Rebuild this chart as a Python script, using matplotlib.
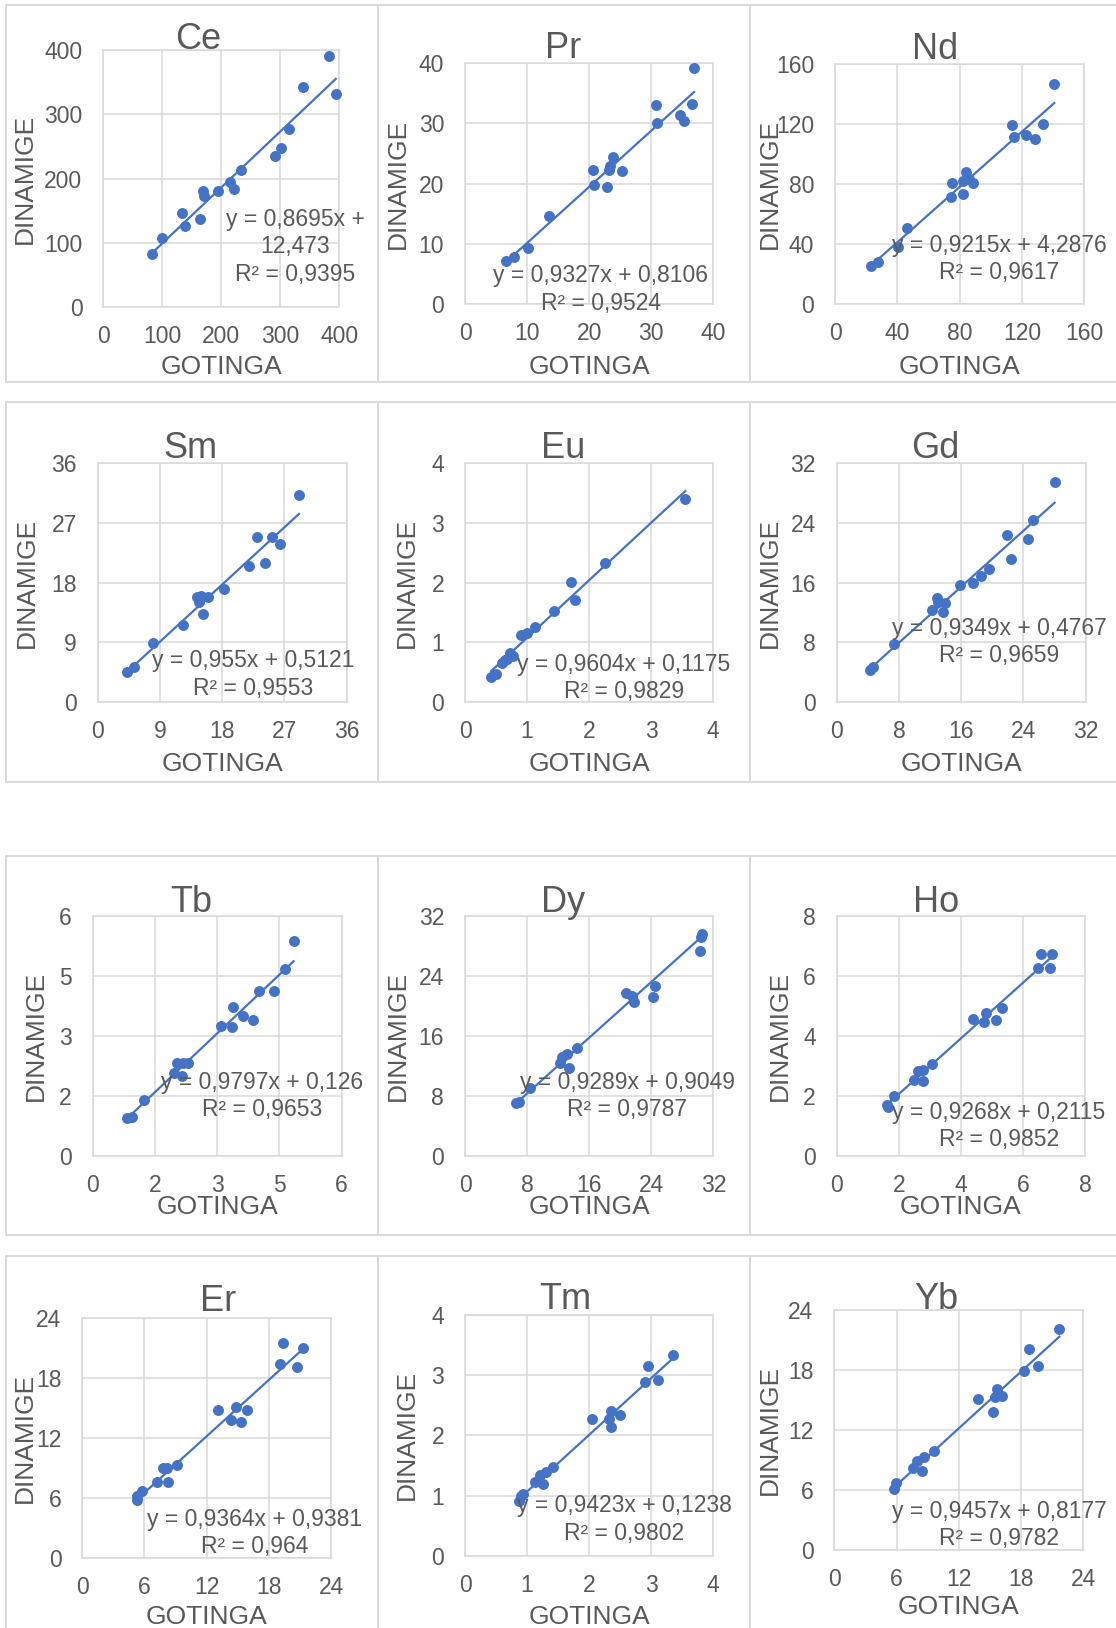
import numpy as np
import matplotlib
matplotlib.use("Agg")
import matplotlib.pyplot as plt
from matplotlib.patches import Rectangle

plt.rcParams['font.family'] = ['Liberation Sans', 'DejaVu Sans']

W, H = 1116, 1628
BLUE = '#4472C4'
TXT = '#595959'
GRID = '#D9D9D9'

ELEMENTS = ['Ce', 'Pr', 'Nd', 'Sm', 'Eu', 'Gd', 'Tb', 'Dy', 'Ho', 'Er', 'Tm', 'Yb']

# GOTINGA (x) vs DINAMIGE (y) per element
CE_GOT = [82.5, 100, 134, 138, 164, 169, 171, 195, 214, 221, 234, 291.5, 300.6, 314, 338, 382.5, 394]
CE_DIN = [82.4, 107, 146, 127, 138, 181, 173, 181, 195, 184, 214, 235, 248, 277, 343, 390, 332]

PR_GOT = [6.6, 7.9, 10.1, 13.5, 20.6, 20.8, 22.8, 23.2, 23.4, 23.9, 25.3, 30.7, 31.0, 34.6, 35.3, 36.5, 36.9]
PR_DIN = [7.15, 7.87, 9.25, 14.7, 22.2, 19.7, 19.4, 22.3, 23.0, 24.5, 22.05, 33.0, 30.0, 31.4, 30.4, 33.3, 39.2]

ND_GOT = [23.1, 27.8, 40.2, 46.4, 74.2, 75.3, 81.9, 82.4, 83.9, 86.0, 88.3, 113.8, 115.1, 122.4, 128.3, 133.3, 140.7]
ND_DIN = [25.5, 28.1, 38.1, 50.7, 71.4, 80.9, 73.1, 82.0, 88.2, 83.5, 80.7, 119.4, 111.3, 112.8, 109.7, 119.7, 146.7]

SM_GOT = [4.2, 5.2, 8.05, 12.3, 14.3, 14.7, 15.0, 15.2, 16.0, 18.3, 21.9, 23.0, 24.2, 25.2, 26.4, 29.1]
SM_DIN = [4.5, 5.25, 8.86, 11.6, 15.8, 15.0, 16.0, 13.3, 15.8, 17.0, 20.5, 24.9, 20.9, 24.9, 23.8, 31.2]

EU_GOT = [0.42, 0.50, 0.59, 0.64, 0.68, 0.72, 0.77, 0.91, 1.0, 1.13, 1.44, 1.71, 1.77, 2.25, 3.55]
EU_DIN = [0.43, 0.47, 0.65, 0.70, 0.73, 0.82, 0.78, 1.12, 1.15, 1.26, 1.52, 2.01, 1.70, 2.33, 3.39]

GD_GOT = [4.24, 4.71, 7.37, 12.3, 12.85, 13.0, 13.6, 13.97, 15.8, 17.5, 18.6, 19.6, 21.9, 22.4, 24.6, 25.2, 28.0]
GD_DIN = [4.27, 4.67, 7.74, 12.3, 13.9, 13.4, 12.1, 13.3, 15.7, 16.0, 16.9, 17.8, 22.3, 19.2, 21.8, 24.3, 29.4]

TB_GOT = [0.82, 0.94, 1.24, 1.96, 2.02, 2.14, 2.17, 2.29, 3.08, 3.35, 3.39, 3.61, 3.86, 4.0, 4.38, 4.63, 4.84]
TB_DIN = [0.96, 0.98, 1.40, 2.07, 2.32, 2.0, 2.32, 2.32, 3.25, 3.23, 3.73, 3.51, 3.40, 4.12, 4.12, 4.68, 5.38]

DY_GOT = [6.53, 6.96, 8.38, 12.2, 12.5, 13.2, 13.4, 14.4, 20.7, 21.5, 21.8, 24.2, 24.5, 30.3, 30.4, 30.6]
DY_DIN = [7.02, 7.16, 9.02, 12.36, 13.16, 13.6, 11.8, 14.36, 21.8, 21.4, 20.5, 21.2, 22.7, 27.3, 29.2, 29.6]

HO_GOT = [1.61, 1.64, 1.86, 2.50, 2.63, 2.79, 2.79, 3.06, 4.40, 4.73, 4.80, 5.13, 5.32, 6.48, 6.58, 6.87, 6.93]
HO_DIN = [1.70, 1.62, 2.0, 2.53, 2.84, 2.87, 2.51, 3.06, 4.57, 4.48, 4.76, 4.53, 4.92, 6.26, 6.73, 6.26, 6.73]

ER_GOT = [5.24, 5.24, 5.73, 7.24, 7.75, 8.2, 8.24, 9.1, 13.06, 14.35, 14.83, 15.28, 15.86, 19.08, 19.34, 20.69, 21.33]
ER_DIN = [6.25, 5.82, 6.75, 7.58, 9.04, 9.04, 7.58, 9.31, 14.8, 13.8, 15.06, 13.56, 14.8, 19.35, 21.5, 19.05, 21.0]

TM_GOT = [0.87, 0.91, 0.94, 1.13, 1.21, 1.26, 1.30, 1.42, 2.04, 2.32, 2.35, 2.36, 2.50, 2.90, 2.95, 3.11, 3.35]
TM_DIN = [0.91, 1.0, 1.02, 1.23, 1.34, 1.19, 1.39, 1.48, 2.27, 2.27, 2.14, 2.41, 2.34, 2.88, 3.16, 2.92, 3.34]

YB_GOT = [5.78, 5.91, 7.61, 7.93, 8.48, 8.67, 9.6, 13.85, 15.3, 15.5, 15.65, 16.2, 18.3, 18.76, 19.6, 21.69]
YB_DIN = [6.1, 6.67, 8.23, 8.9, 7.9, 9.33, 9.93, 15.07, 13.8, 15.27, 16.07, 15.4, 17.9, 20.07, 18.43, 22.07]

GOT = [CE_GOT, PR_GOT, ND_GOT, SM_GOT, EU_GOT, GD_GOT, TB_GOT, DY_GOT, HO_GOT, ER_GOT, TM_GOT, YB_GOT]
DIN = [CE_DIN, PR_DIN, ND_DIN, SM_DIN, EU_DIN, GD_DIN, TB_DIN, DY_DIN, HO_DIN, ER_DIN, TM_DIN, YB_DIN]

# linear trend lines
SLOPES = [0.8695, 0.9327, 0.9215, 0.955, 0.9604, 0.9349, 0.9797, 0.9289, 0.9268, 0.9364, 0.9423, 0.9457]
INTERCEPTS = [12.473, 0.8106, 4.2876, 0.5121, 0.1175, 0.4767, 0.126, 0.9049, 0.2115, 0.9381, 0.1238, 0.8177]
R2 = [0.9395, 0.9524, 0.9617, 0.9553, 0.9829, 0.9659, 0.9653, 0.9787, 0.9852, 0.964, 0.9802, 0.9782]

AX_MAX = [400, 40, 160, 36, 4, 32, 6, 32, 8, 24, 4, 24]
AX_STEP = [100, 10, 40, 9, 1, 8, 1.5, 8, 2, 6, 1, 6]

# layout in pixels: plot box (left, top, right, bottom), title (x, baseline),
# ylabel x, xlabel y, equation (x, first line y)
PLOT_BOX = [(103.3, 50, 339.3, 307.3), (465, 63.3, 713.3, 304), (835, 64, 1084.3, 304),
            (97.7, 462.7, 346.7, 702.3), (465, 462.7, 713.3, 702.3), (836.7, 462.7, 1085.7, 702.3),
            (92.7, 916, 341.7, 1156), (465, 916, 713.3, 1156), (836.7, 916, 1085, 1156),
            (82.3, 1317.7, 331, 1558.3), (465, 1315, 713.3, 1555.7), (834.3, 1310, 1083.3, 1550)]
TITLE_POS = [(198, 49.3), (563, 58.3), (935, 58.7),
             (190.7, 457.7), (563.3, 457.7), (935.7, 457.7),
             (191, 911.7), (563.3, 911.7), (935.7, 911.7),
             (218.3, 1311), (565, 1309.3), (936.7, 1309.3)]
YLAB_X = [25, 398.3, 770, 26.7, 407.3, 770, 36, 398.3, 780, 25, 407.3, 770]
XLAB_Y = [364, 365, 364, 761.7, 761.7, 761.7, 1205, 1205, 1205, 1614.3, 1614.3, 1604.3]
EQ_POS = [(295, 217), (600.8, 273.3), (999, 242.7),
          (253.5, 658.3), (624, 661.7), (999, 625.7),
          (262, 1080), (627.3, 1080), (999, 1110),
          (254.5, 1516.7), (624, 1503.3), (999, 1509)]
EQ_WRAP = [True] + [False] * 11

BOX_COLS = [(6, 377.5), (377.5, 750), (750, 1121)]
BOX_ROWS = [(5, 382), (402, 782), (856, 1235), (1256, 1640)]


def fx(px):
    return px / W


def fy(py):
    return 1 - py / H


def dec(v):
    return str(v).replace('.', ',')


fig = plt.figure(figsize=(W / 100, H / 100), dpi=100)
fig.patch.set_facecolor('white')

for (y0, y1) in BOX_ROWS:
    for (x0, x1) in BOX_COLS:
        fig.add_artist(Rectangle((fx(x0), fy(y1)), (x1 - x0) / W, (y1 - y0) / H,
                                 transform=fig.transFigure, fill=False,
                                 edgecolor=GRID, lw=1.4))

for i, el in enumerate(ELEMENTS):
    l, t, r, b = PLOT_BOX[i]
    ax = fig.add_axes([fx(l), fy(b), (r - l) / W, (b - t) / H])
    gx = np.array(GOT[i])
    dy = np.array(DIN[i])
    top, step = AX_MAX[i], AX_STEP[i]
    ticks = np.arange(0, top + step / 2, step)
    labels = [f"{int(np.floor(v + 0.5))}" for v in ticks]
    ax.set_xlim(0, top)
    ax.set_ylim(0, top)
    ax.set_xticks(ticks)
    ax.set_yticks(ticks)
    ax.set_xticklabels(labels)
    ax.set_yticklabels(labels)
    ax.tick_params(length=0, labelsize=16.5, labelcolor=TXT)
    ax.tick_params(axis='x', pad=13)
    ax.tick_params(axis='y', pad=15)
    ax.grid(True, color=GRID, lw=1.1)
    ax.set_axisbelow(True)
    for s in ax.spines.values():
        s.set_color(GRID)
        s.set_linewidth(1.1)

    ax.scatter(gx, dy, s=62, color=BLUE, linewidths=0, zorder=3, clip_on=False)
    xs = np.array([gx.min(), gx.max()])
    ax.plot(xs, SLOPES[i] * xs + INTERCEPTS[i], color=BLUE, lw=1.6, zorder=4, clip_on=False)

    tx, ty = TITLE_POS[i]
    fig.text(fx(tx), fy(ty), el, ha='center', va='baseline', fontsize=26, color=TXT)
    fig.text(fx(YLAB_X[i]), fy((t + b) / 2), 'DINAMIGE', rotation=90, ha='center',
             va='center', fontsize=19, color=TXT)
    fig.text(fx((l + r) / 2), fy(XLAB_Y[i]), 'GOTINGA', ha='center',
             va='center_baseline', fontsize=19, color=TXT)

    eq = f"y = {dec(SLOPES[i])}x + {dec(INTERCEPTS[i])}"
    lines = [eq]
    if EQ_WRAP[i]:
        lines = [f"y = {dec(SLOPES[i])}x +", dec(INTERCEPTS[i])]
    lines.append(f"R² = {dec(R2[i])}")
    ex, ey = EQ_POS[i]
    for k, txt in enumerate(lines):
        fig.text(fx(ex), fy(ey + k * 27.3), txt, ha='center', va='center_baseline',
                 fontsize=16.5, color=TXT, zorder=10)

fig.savefig('out.png', dpi=100, facecolor='white')
